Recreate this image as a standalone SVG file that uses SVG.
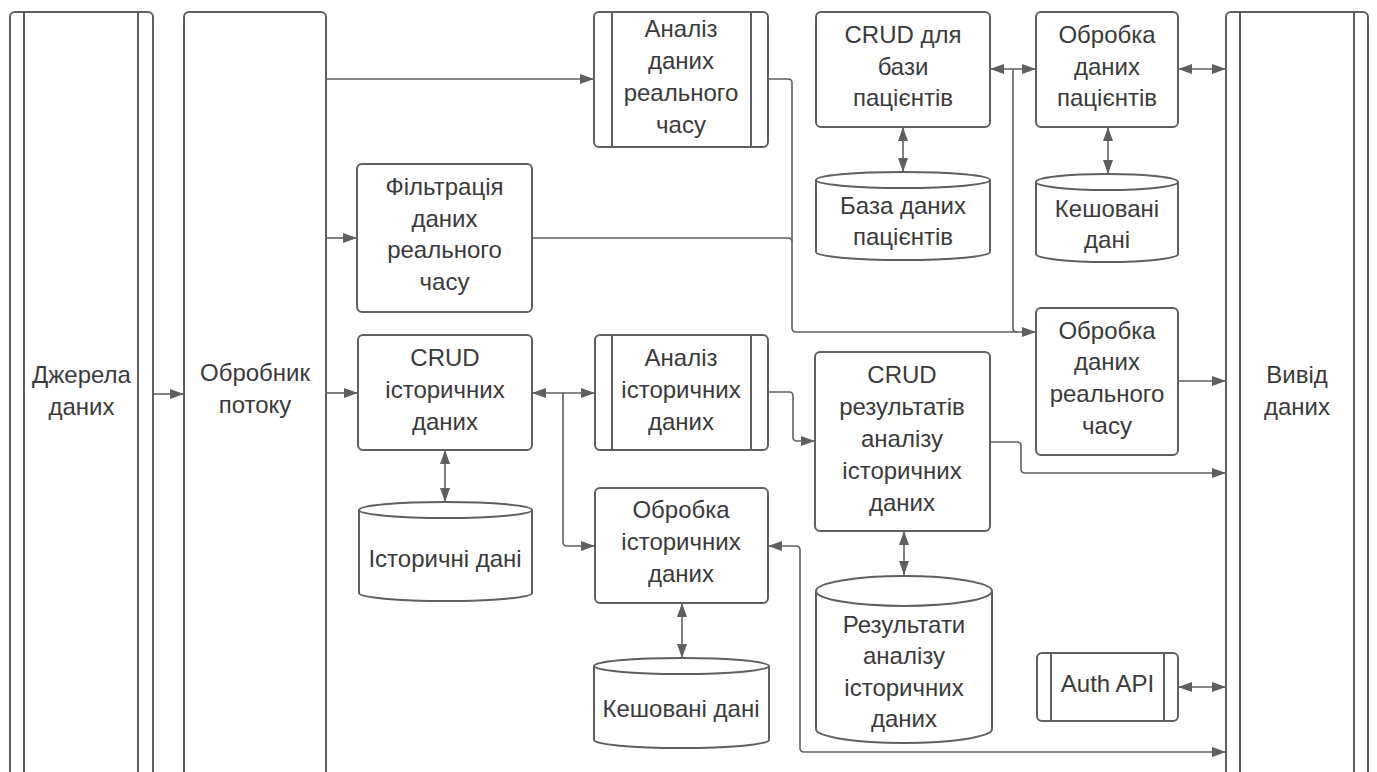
<svg xmlns="http://www.w3.org/2000/svg" width="1377" height="772" viewBox="0 0 1377 772">
<style>
.b{fill:#fff;stroke:#5f5f5f;stroke-width:2}
.l{fill:none;stroke:#5f5f5f;stroke-width:2}
.c{fill:none;stroke:#5f5f5f;stroke-width:1.6}
text{font-family:"Liberation Sans",Arial,sans-serif;font-size:24px;fill:#3a3a3a;text-anchor:middle}
</style>
<defs>
<marker id="ah" viewBox="0 0 14 10" refX="14" refY="5" markerWidth="14" markerHeight="10" markerUnits="userSpaceOnUse" orient="auto-start-reverse">
<path d="M0,0 L14,5 L0,10 z" fill="#5f5f5f"/>
</marker>
</defs>
<rect width="1377" height="772" fill="#fff"/>

<g id="connectors">
<path class="c" d="M153,394 H184" marker-end="url(#ah)"/>
<path class="c" d="M326,79 H594" marker-end="url(#ah)"/>
<path class="c" d="M326,238 H357" marker-end="url(#ah)"/>
<path class="c" d="M326,393 H358" marker-end="url(#ah)"/>
<path class="c" d="M768,79 H788 Q792,79 792,83 V328 Q792,332 796,332 H1036" marker-end="url(#ah)"/>
<path class="c" d="M532,238 H788 Q792,238 792,242"/>
<path class="c" d="M990,69 H1036" marker-start="url(#ah)" marker-end="url(#ah)"/>
<path class="c" d="M1013,69 V328 Q1013,332 1017,332"/>
<path class="c" d="M1178,69 H1226" marker-start="url(#ah)" marker-end="url(#ah)"/>
<path class="c" d="M903,127 V172" marker-start="url(#ah)" marker-end="url(#ah)"/>
<path class="c" d="M1108,127 V174" marker-start="url(#ah)" marker-end="url(#ah)"/>
<path class="c" d="M1178,381 H1226" marker-end="url(#ah)"/>
<path class="c" d="M532,393 H595" marker-start="url(#ah)" marker-end="url(#ah)"/>
<path class="c" d="M563,393 V542 Q563,546 567,546 H595" marker-end="url(#ah)"/>
<path class="c" d="M445,450 V502" marker-start="url(#ah)" marker-end="url(#ah)"/>
<path class="c" d="M768,392 H789 Q793,392 793,396 V437 Q793,441 797,441 H815" marker-end="url(#ah)"/>
<path class="c" d="M990,442 H1017 Q1021,442 1021,446 V469 Q1021,473 1025,473 H1226" marker-end="url(#ah)"/>
<path class="c" d="M904,531 V575" marker-start="url(#ah)" marker-end="url(#ah)"/>
<path class="c" d="M768,546 H796 Q800,546 800,550 V748 Q800,752 804,752 H1226" marker-start="url(#ah)" marker-end="url(#ah)"/>
<path class="c" d="M682,603 V658" marker-start="url(#ah)" marker-end="url(#ah)"/>
<path class="c" d="M1178,687 H1226" marker-start="url(#ah)" marker-end="url(#ah)"/>
</g>

<g id="sources">
<rect class="b" x="10" y="12" width="143" height="790" rx="5"/>
<line class="l" x1="24" y1="12" x2="24" y2="800"/>
<line class="l" x1="138" y1="12" x2="138" y2="800"/>
<text x="81.5" y="383">Джерела</text>
<text x="81.5" y="415">даних</text>
</g>

<g id="stream">
<rect class="b" x="184" y="12" width="142" height="790" rx="5"/>
<text x="255" y="381">Обробник</text>
<text x="255" y="413">потоку</text>
</g>

<g id="output">
<rect class="b" x="1226" y="12" width="142" height="790" rx="5"/>
<line class="l" x1="1240" y1="12" x2="1240" y2="800"/>
<line class="l" x1="1354" y1="12" x2="1354" y2="800"/>
<text x="1297" y="383">Вивід</text>
<text x="1297" y="415">даних</text>
</g>

<g id="realtime-analysis">
<rect class="b" x="594" y="12" width="174" height="135" rx="5"/>
<line class="l" x1="612" y1="12" x2="612" y2="147"/>
<line class="l" x1="751" y1="12" x2="751" y2="147"/>
<text x="681" y="37">Аналіз</text>
<text x="681" y="69">даних</text>
<text x="681" y="101">реального</text>
<text x="681" y="133">часу</text>
</g>

<g id="realtime-filter">
<rect class="b" x="357" y="164" width="175" height="148" rx="5"/>
<text x="444.5" y="195">Фільтрація</text>
<text x="444.5" y="227">даних</text>
<text x="444.5" y="258">реального</text>
<text x="444.5" y="290">часу</text>
</g>

<g id="patients-crud">
<rect class="b" x="816" y="12" width="174" height="115" rx="5"/>
<text x="903" y="43">CRUD для</text>
<text x="903" y="75">бази</text>
<text x="903" y="106">пацієнтів</text>
</g>

<g id="patients-processing">
<rect class="b" x="1036" y="12" width="142" height="115" rx="5"/>
<text x="1107" y="43">Обробка</text>
<text x="1107" y="75">даних</text>
<text x="1107" y="106">пацієнтів</text>
</g>

<g id="patients-db">
<path class="b" d="M816,180 A87,8 0 0 1 990,180 V252 A87,8 0 0 1 816,252 Z"/>
<path class="l" d="M816,180 A87,8 0 0 0 990,180"/>
<text x="903" y="214">База даних</text>
<text x="903" y="245">пацієнтів</text>
</g>

<g id="patients-cache">
<path class="b" d="M1036,182 A71,8 0 0 1 1178,182 V254 A71,8 0 0 1 1036,254 Z"/>
<path class="l" d="M1036,182 A71,8 0 0 0 1178,182"/>
<text x="1107" y="217">Кешовані</text>
<text x="1107" y="248">дані</text>
</g>

<g id="realtime-processing">
<rect class="b" x="1036" y="308" width="142" height="147" rx="5"/>
<text x="1107" y="339">Обробка</text>
<text x="1107" y="370">даних</text>
<text x="1107" y="402">реального</text>
<text x="1107" y="434">часу</text>
</g>

<g id="historical-crud">
<rect class="b" x="358" y="335" width="174" height="115" rx="5"/>
<text x="445" y="366">CRUD</text>
<text x="445" y="398">історичних</text>
<text x="445" y="430">даних</text>
</g>

<g id="historical-analysis">
<rect class="b" x="595" y="335" width="173" height="115" rx="5"/>
<line class="l" x1="612" y1="335" x2="612" y2="450"/>
<line class="l" x1="751" y1="335" x2="751" y2="450"/>
<text x="681" y="366">Аналіз</text>
<text x="681" y="398">історичних</text>
<text x="681" y="430">даних</text>
</g>

<g id="results-crud">
<rect class="b" x="815" y="352" width="175" height="179" rx="5"/>
<text x="902" y="383">CRUD</text>
<text x="902" y="415">результатів</text>
<text x="902" y="447">аналізу</text>
<text x="902" y="479">історичних</text>
<text x="902" y="511">даних</text>
</g>

<g id="historical-processing">
<rect class="b" x="595" y="488" width="173" height="115" rx="5"/>
<text x="681" y="518">Обробка</text>
<text x="681" y="550">історичних</text>
<text x="681" y="582">даних</text>
</g>

<g id="historical-db">
<path class="b" d="M359,510 A86.5,8 0 0 1 532,510 V593 A86.5,8 0 0 1 359,593 Z"/>
<path class="l" d="M359,510 A86.5,8 0 0 0 532,510"/>
<text x="445" y="567">Історичні дані</text>
</g>

<g id="historical-cache">
<path class="b" d="M594,666 A87.5,8 0 0 1 769,666 V740 A87.5,8 0 0 1 594,740 Z"/>
<path class="l" d="M594,666 A87.5,8 0 0 0 769,666"/>
<text x="681" y="717">Кешовані дані</text>
</g>

<g id="results-db">
<path class="b" d="M816,591 A88,15 0 0 1 992,591 V729 A88,14 0 0 1 816,729 Z"/>
<path class="l" d="M816,591 A88,15 0 0 0 992,591"/>
<text x="904" y="633">Результати</text>
<text x="904" y="664">аналізу</text>
<text x="904" y="696">історичних</text>
<text x="904" y="727">даних</text>
</g>

<g id="auth-api">
<rect class="b" x="1037" y="653" width="141" height="68" rx="5"/>
<line class="l" x1="1051" y1="653" x2="1051" y2="721"/>
<line class="l" x1="1164" y1="653" x2="1164" y2="721"/>
<text x="1107.5" y="692">Auth API</text>
</g>
</svg>
